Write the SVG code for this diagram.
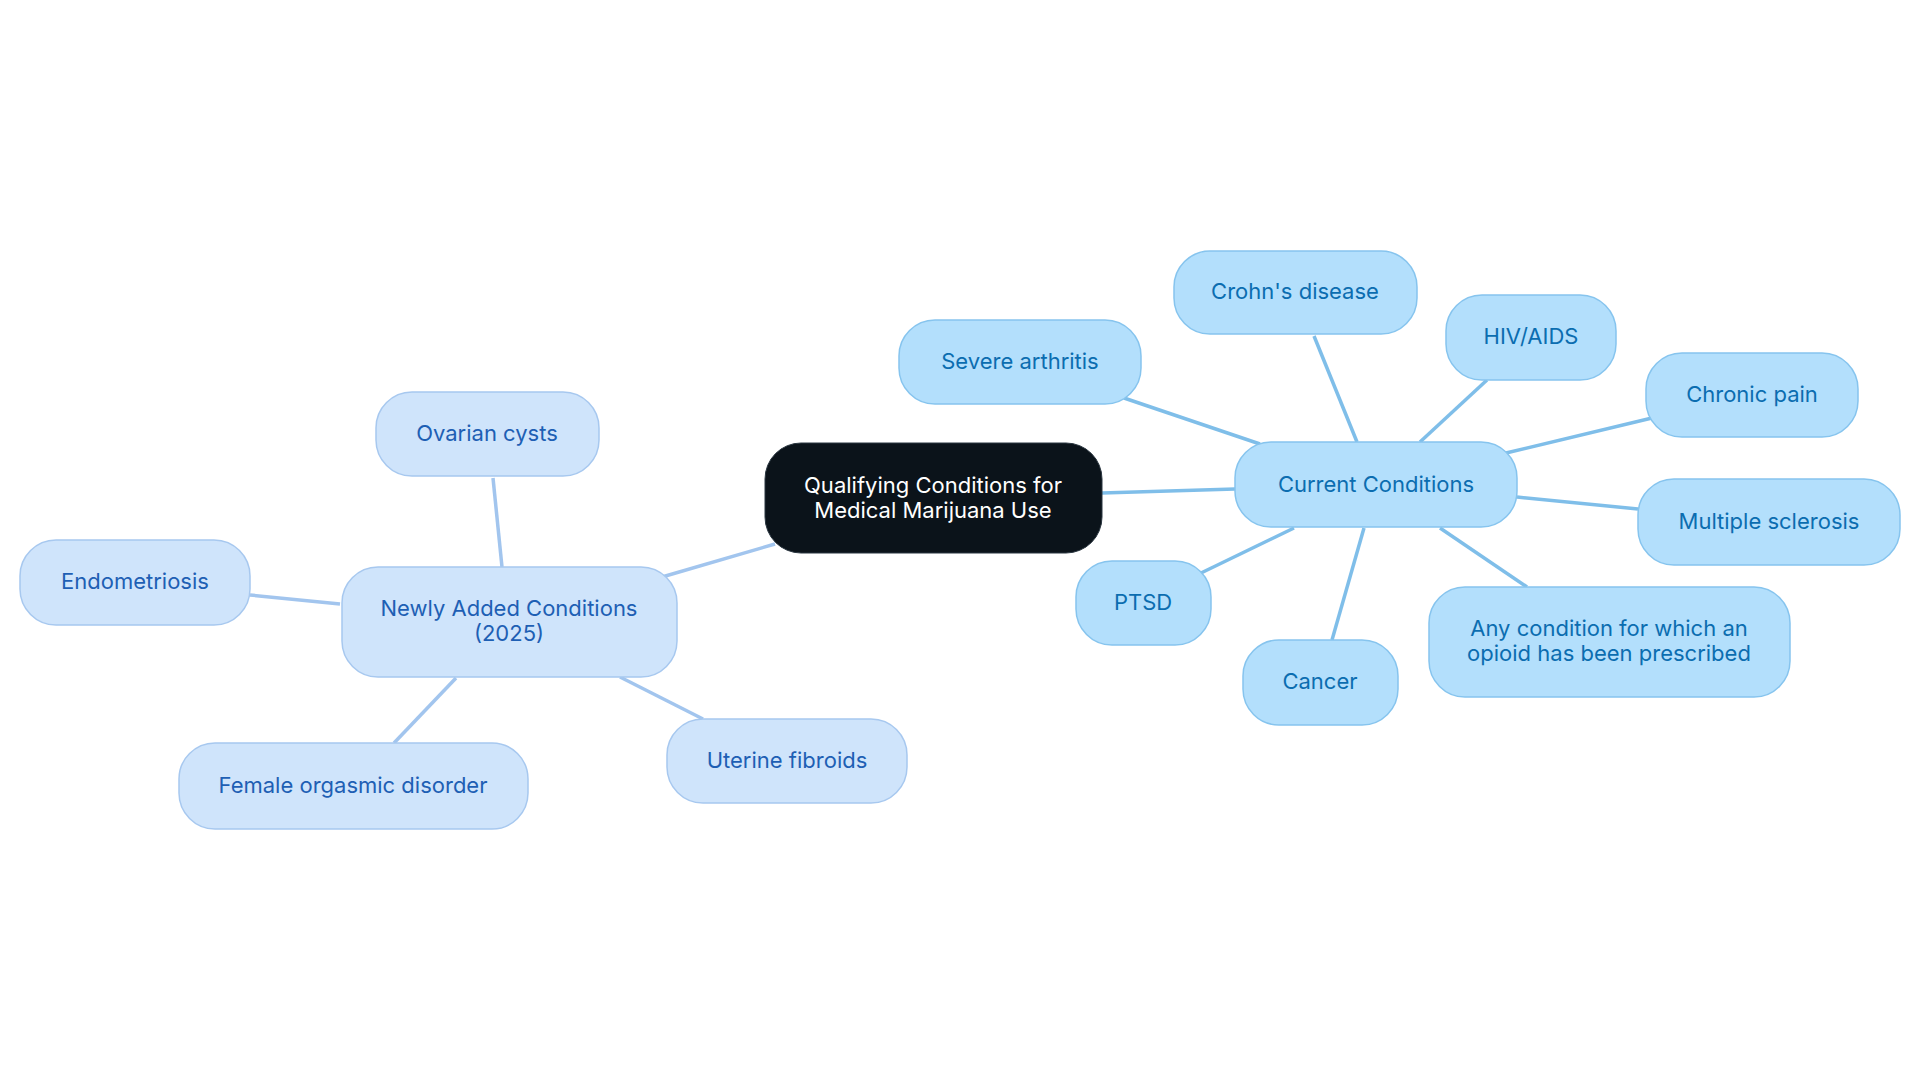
<svg xmlns="http://www.w3.org/2000/svg" width="1920" height="1083" viewBox="0 0 1920 1083">
<style>
text{font-family:Inter,"Noto Sans",sans-serif;font-size:22px;text-anchor:middle;dominant-baseline:central}
.c rect{fill:#b3dffc;stroke:#86c4ee;stroke-width:1.5}
.c text{fill:#0b6db0}
.n rect{fill:#cfe4fb;stroke:#a7c8ef;stroke-width:1.5}
.n text{fill:#1e5fb4}
#links line{stroke-width:3.5}
.lc{stroke:#7fbee9}.ln{stroke:#a2c5ee}
</style>
<rect width="1920" height="1083" fill="#fff"/>
<g id="links">
<line class="lc" x1="1102" y1="493" x2="1235" y2="489"/>
<line class="ln" x1="775" y1="544" x2="662" y2="577"/>
<line class="ln" x1="502" y1="567" x2="493" y2="478"/>
<line class="ln" x1="340" y1="604" x2="250" y2="595"/>
<line class="ln" x1="456" y1="678" x2="394" y2="743"/>
<line class="ln" x1="620" y1="677" x2="703" y2="719"/>
<line class="lc" x1="1260" y1="444" x2="1124" y2="398"/>
<line class="lc" x1="1357" y1="442" x2="1314" y2="336"/>
<line class="lc" x1="1420" y1="442" x2="1487" y2="380"/>
<line class="lc" x1="1506" y1="453" x2="1652" y2="418"/>
<line class="lc" x1="1517" y1="497" x2="1638" y2="509"/>
<line class="lc" x1="1440" y1="528" x2="1527" y2="587"/>
<line class="lc" x1="1294" y1="528" x2="1201" y2="573"/>
<line class="lc" x1="1364" y1="528" x2="1332" y2="640"/>
</g>
<g id="center"><rect x="765" y="443" width="337" height="110" rx="36" fill="#0b131a" stroke="#2a3640"/><text x="933" y="485" fill="#fff">Qualifying Conditions for</text><text x="933" y="510" fill="#fff">Medical Marijuana Use</text></g>
<g id="current" class="c"><rect x="1235" y="442" width="282" height="85" rx="36"/><text x="1376" y="484">Current Conditions</text></g>
<g id="newly" class="n"><rect x="342" y="567" width="335" height="110" rx="36"/><text x="509" y="608">Newly Added Conditions</text><text x="509" y="633">(2025)</text></g>
<g id="ovarian" class="n"><rect x="376" y="392" width="223" height="84" rx="36"/><text x="487" y="433">Ovarian cysts</text></g>
<g id="endo" class="n"><rect x="20" y="540" width="230" height="85" rx="36"/><text x="135" y="581">Endometriosis</text></g>
<g id="female" class="n"><rect x="179" y="743" width="349" height="86" rx="36"/><text x="353" y="785">Female orgasmic disorder</text></g>
<g id="uterine" class="n"><rect x="667" y="719" width="240" height="84" rx="36"/><text x="787" y="760">Uterine fibroids</text></g>
<g id="severe" class="c"><rect x="899" y="320" width="242" height="84" rx="36"/><text x="1020" y="361">Severe arthritis</text></g>
<g id="crohn" class="c"><rect x="1174" y="251" width="243" height="83" rx="36"/><text x="1295" y="291">Crohn's disease</text></g>
<g id="hiv" class="c"><rect x="1446" y="295" width="170" height="85" rx="36"/><text x="1531" y="336">HIV/AIDS</text></g>
<g id="chronic" class="c"><rect x="1646" y="353" width="212" height="84" rx="36"/><text x="1752" y="394">Chronic pain</text></g>
<g id="ms" class="c"><rect x="1638" y="479" width="262" height="86" rx="36"/><text x="1769" y="521">Multiple sclerosis</text></g>
<g id="any" class="c"><rect x="1429" y="587" width="361" height="110" rx="36"/><text x="1609" y="628">Any condition for which an</text><text x="1609" y="653">opioid has been prescribed</text></g>
<g id="ptsd" class="c"><rect x="1076" y="561" width="135" height="84" rx="36"/><text x="1143" y="602">PTSD</text></g>
<g id="cancer" class="c"><rect x="1243" y="640" width="155" height="85" rx="36"/><text x="1320" y="681">Cancer</text></g>
</svg>
